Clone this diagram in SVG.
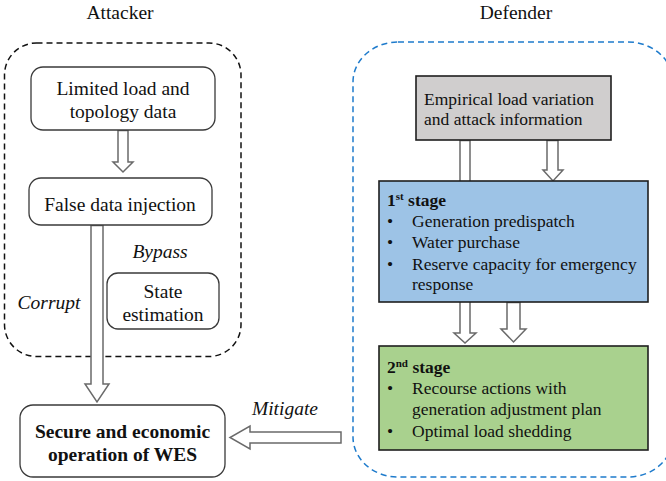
<svg xmlns="http://www.w3.org/2000/svg" width="666" height="481" viewBox="0 0 666 481">
<style>
  text { font-family: "Liberation Serif", "Times New Roman", serif; fill: #111; }
  .a { font-size: 19.5px; }
  .d { font-size: 17.5px; }
  .b { font-weight: bold; }
  .i { font-style: italic; }
  .box { fill: #fff; stroke: #3a3a3a; stroke-width: 1.3; }
  .arrow { fill: #fff; stroke: #6a6a6a; stroke-width: 1.5; stroke-linejoin: miter; }
  .sq { stroke: #1e1e1e; stroke-width: 1.6; }
</style>
<rect width="666" height="481" fill="#fff"/>

<!-- group frames -->
<g id="attacker-group">
  <rect x="4.5" y="43" width="236.5" height="313.5" rx="32" ry="32" fill="none" stroke="#111" stroke-width="1.5" stroke-dasharray="6,4"/>
  <text class="a" x="120" y="18.5" text-anchor="middle">Attacker</text>
</g>
<g id="defender-group">
  <rect x="353" y="42" width="320" height="435" rx="45" ry="40" fill="none" stroke="#1e7bcc" stroke-width="1.5" stroke-dasharray="6,4"/>
  <text class="a" x="516" y="18.5" text-anchor="middle">Defender</text>
</g>

<!-- connectors -->
<g id="connectors">
  <path class="arrow" d="M118,130.5 V162 H113 L123,172 L133,162 H128 V130.5 Z"/>
  <path class="arrow" d="M91,225.5 V384 H85 L97,402 L109,384 H103 V225.5 Z"/>
  <path class="arrow" d="M341,432 H250 V426 L230,437.5 L250,449 V443 H341 Z"/>
  <path class="arrow" d="M460,140.5 V333 H454 L465,343 L476,333 H470 V140.5 Z"/>
  <path class="arrow" d="M547,140.5 V170 H543 L553,181 L563,170 H558 V140.5 Z"/>
  <path class="arrow" d="M507,302.5 V329 H501 L513.5,342 L526,329 H520 V302.5 Z"/>
  <text class="a i" x="160" y="258" text-anchor="middle">Bypass</text>
  <text class="a i" x="49" y="309" text-anchor="middle">Corrupt</text>
  <text class="a i" x="285" y="415" text-anchor="middle">Mitigate</text>
</g>

<!-- attacker nodes -->
<g id="limited-data">
  <rect class="box" x="31" y="67" width="184" height="63" rx="12" ry="12"/>
  <text class="a" x="123" y="95" text-anchor="middle">Limited load and</text>
  <text class="a" x="123" y="117.5" text-anchor="middle">topology data</text>
</g>
<g id="false-data-injection">
  <rect class="box" x="29" y="178" width="183" height="47" rx="12" ry="12"/>
  <text class="a" x="120" y="211" text-anchor="middle">False data injection</text>
</g>
<g id="state-estimation">
  <rect class="box" x="107" y="273" width="112" height="56" rx="11" ry="11"/>
  <text class="a" x="163" y="298" text-anchor="middle">State</text>
  <text class="a" x="163" y="321" text-anchor="middle">estimation</text>
</g>
<g id="secure-operation">
  <rect class="box" x="20" y="405" width="205" height="72" rx="13" ry="13"/>
  <text class="a b" x="122.5" y="438" text-anchor="middle">Secure and economic</text>
  <text class="a b" x="122.5" y="461" text-anchor="middle">operation of WES</text>
</g>

<!-- defender nodes -->
<g id="empirical-info">
  <rect class="sq" x="416" y="76" width="195" height="64" fill="#d0cece"/>
  <text class="d" x="424" y="105">Empirical load variation</text>
  <text class="d" x="424" y="125">and attack information</text>
</g>
<g id="first-stage">
  <rect class="sq" x="379" y="181" width="269" height="121" fill="#9dc3e6"/>
  <text class="d b" x="387" y="205.5">1<tspan font-size="11" dy="-6">st</tspan><tspan dy="6"> stage</tspan></text>
  <text class="d" x="387" y="227">•</text><text class="d" x="412" y="227">Generation predispatch</text>
  <text class="d" x="387" y="248">•</text><text class="d" x="412" y="248">Water purchase</text>
  <text class="d" x="387" y="269.5">•</text><text class="d" x="412" y="269.5">Reserve capacity for emergency</text>
  <text class="d" x="412" y="290">response</text>
</g>
<g id="second-stage">
  <rect class="sq" x="379" y="346" width="269" height="104" fill="#a9d18e"/>
  <text class="d b" x="387" y="373">2<tspan font-size="11" dy="-6">nd</tspan><tspan dy="6"> stage</tspan></text>
  <text class="d" x="387" y="394">•</text><text class="d" x="412" y="394">Recourse actions with</text>
  <text class="d" x="412" y="415">generation adjustment plan</text>
  <text class="d" x="387" y="436.5">•</text><text class="d" x="412" y="436.5">Optimal load shedding</text>
</g>
</svg>
